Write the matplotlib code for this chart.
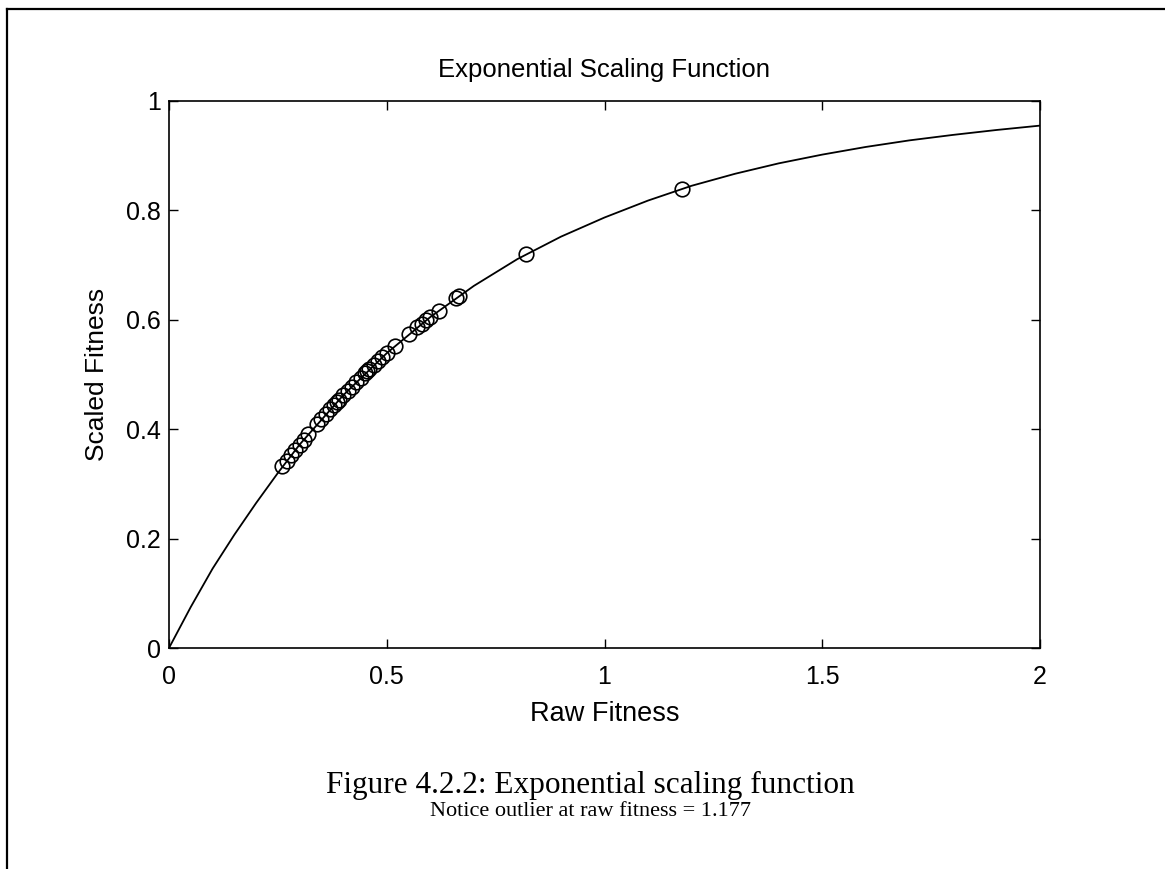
import matplotlib.pyplot as plt
from matplotlib.lines import Line2D

# scaling curve, sampled raw fitness vs scaled fitness
curve_raw = [0.0, 0.05, 0.1, 0.15, 0.2, 0.25, 0.3, 0.4, 0.5, 0.6, 0.7, 0.8,
             0.9, 1.0, 1.1, 1.2, 1.3, 1.4, 1.5, 1.6, 1.7, 1.8, 1.9, 2.0]
curve_scaled = [0.0, 0.075, 0.145, 0.207, 0.265, 0.32, 0.372, 0.462, 0.539,
                0.605, 0.662, 0.711, 0.752, 0.787, 0.818, 0.845, 0.867, 0.886,
                0.902, 0.916, 0.928, 0.938, 0.947, 0.955]

# population members
pop_raw = [0.26, 0.27, 0.28, 0.29, 0.30, 0.31, 0.32, 0.34, 0.35, 0.36, 0.37,
           0.38, 0.385, 0.39, 0.40, 0.41, 0.42, 0.43, 0.44, 0.45, 0.455, 0.46,
           0.47, 0.48, 0.49, 0.50, 0.52, 0.55, 0.57, 0.58, 0.59, 0.60, 0.62,
           0.66, 0.665, 0.82, 1.177]
pop_scaled = [0.332, 0.342, 0.352, 0.362, 0.372, 0.381, 0.391, 0.410, 0.419,
              0.428, 0.437, 0.445, 0.450, 0.454, 0.462, 0.470, 0.478, 0.486,
              0.494, 0.502, 0.506, 0.510, 0.517, 0.525, 0.532, 0.539, 0.553,
              0.574, 0.587, 0.593, 0.599, 0.605, 0.617, 0.640, 0.643, 0.720,
              0.839]

xticks = [0, 0.5, 1, 1.5, 2]
yticks = [0, 0.2, 0.4, 0.6, 0.8, 1]

plt.rcParams['font.family'] = ['Liberation Sans', 'DejaVu Sans']

W, H = 1165, 869
fig = plt.figure(figsize=(W / 100, H / 100), dpi=100)
ax = fig.add_axes([169 / W, 1 - 648 / H, 871 / W, 547 / H])

ax.plot(curve_raw, curve_scaled, color='black', linewidth=1.3)
ax.plot(pop_raw, pop_scaled, linestyle='none', marker='o', markersize=10.5,
        markerfacecolor='none', markeredgecolor='black', markeredgewidth=1.2)

ax.set_xlim(0, 2)
ax.set_ylim(0, 1)
ax.set_xticks(xticks)
ax.set_xticklabels(['0', '0.5', '1', '1.5', '2'])
ax.set_yticks(yticks)
ax.set_yticklabels(['0', '0.2', '0.4', '0.6', '0.8', '1'])
ax.tick_params(direction='in', length=6.5, width=1, labelsize=18,
               top=True, right=True)
ax.tick_params(axis='x', pad=12)
ax.tick_params(axis='y', pad=6)
for s in ax.spines.values():
    s.set_linewidth(1.2)

ax.set_title('Exponential Scaling Function', fontsize=18.5, pad=17)
ax.set_xlabel('Raw Fitness', fontsize=19.5, labelpad=9)
ax.set_ylabel('Scaled Fitness', fontsize=19, labelpad=12)

# caption below the plot
fig.text(590 / W, 1 - 785 / H, 'Figure 4.2.2: Exponential scaling function',
         ha='center', va='center', fontsize=22.5, family='Liberation Serif')
fig.text(590 / W, 1 - 812 / H, 'Notice outlier at raw fitness = 1.177',
         ha='center', va='center', fontsize=16, family='Liberation Serif')

# page frame lines (left and top)
fig.add_artist(Line2D([7 / W, 7 / W], [0, 1 - 9 / H], color='black',
                      linewidth=1.6, transform=fig.transFigure))
fig.add_artist(Line2D([7 / W, 1], [1 - 9 / H, 1 - 9 / H], color='black',
                      linewidth=1.6, transform=fig.transFigure))

fig.savefig('out.png', dpi=100)
